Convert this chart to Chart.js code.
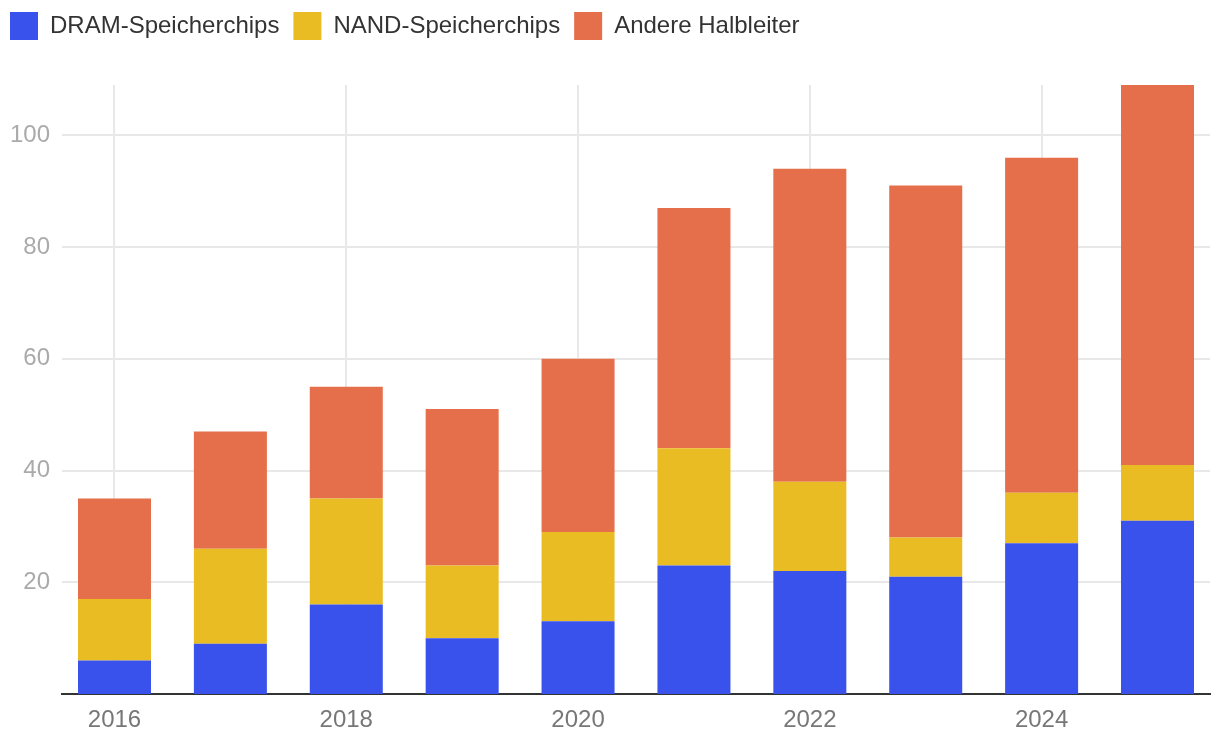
<!DOCTYPE html>
<html>
<head>
<meta charset="utf-8">
<script src="https://cdn.jsdelivr.net/npm/chart.js@4"></script>
<style>
html,body{margin:0;padding:0;background:#fff;}
#wrap{width:1220px;height:748px;}
</style>
</head>
<body>
<div id="wrap"><canvas id="c" width="1220" height="748"></canvas></div>
<script>
const years = ['2016','2017','2018','2019','2020','2021','2022','2023','2024','2025'];
const dram = [6, 9, 16, 10, 13, 23, 22, 21, 27, 31];
const nand = [11, 17, 19, 13, 16, 21, 16, 7, 9, 10];
const andere = [18, 21, 20, 28, 31, 43, 56, 63, 60, 68];
const xTickYears = [2016, 2018, 2020, 2022, 2024];
const yTicks = [20, 40, 60, 80, 100];
const yMax = 109;

const fontFamily = '"Liberation Sans", Arial, Helvetica, sans-serif';
const barPct = 0.63;
const toPoints = arr => arr.map((v, i) => ({x: Number(years[i]), y: v}));

const legendHeight = {
  id: 'legendHeight',
  afterInit(chart) {
    const lg = chart.legend;
    if (!lg) return;
    const orig = lg.fit;
    lg.fit = function() { orig.call(this); this.height = 87; };
  }
};

new Chart(document.getElementById('c'), {
  type: 'bar',
  plugins: [legendHeight],
  data: {
    datasets: [
      {label: 'DRAM-Speicherchips', data: toPoints(dram), backgroundColor: '#3a52ec', barPercentage: barPct, categoryPercentage: 1},
      {label: 'NAND-Speicherchips', data: toPoints(nand), backgroundColor: '#eabc23', barPercentage: barPct, categoryPercentage: 1},
      {label: 'Andere Halbleiter', data: toPoints(andere), backgroundColor: '#e66f4b', barPercentage: barPct, categoryPercentage: 1}
    ]
  },
  options: {
    responsive: false,
    animation: false,
    devicePixelRatio: 1,
    layout: {padding: {left: -4, right: 10, top: -2, bottom: 0}},
    plugins: {
      legend: {
        position: 'top',
        align: 'start',
        labels: {
          boxWidth: 28,
          boxHeight: 28,
          padding: 14,
          color: '#333',
          font: {family: fontFamily, size: 24}
        }
      },
      tooltip: {enabled: false}
    },
    scales: {
      x: {
        type: 'linear',
        stacked: true,
        min: 2015.547,
        max: 2025.453,
        offset: false,
        grid: {offset: false, color: '#e8e8e8', lineWidth: 2, drawTicks: false},
        border: {display: true, color: '#333', width: 2},
        ticks: {
          stepSize: 1,
          includeBounds: false,
          color: '#777',
          font: {family: fontFamily, size: 24},
          padding: 12,
          autoSkip: false,
          maxRotation: 0,
          callback: function(v) { return xTickYears.includes(Math.round(v)) && Math.abs(v - Math.round(v)) < 1e-6 ? String(Math.round(v)) : null; }
        },
        afterBuildTicks: function(s) { s.ticks = xTickYears.map(v => ({value: v})); },
        afterFit: function(s) { s.height = 54; }
      },
      y: {
        stacked: true,
        min: 0,
        max: yMax,
        grid: {color: '#e8e8e8', lineWidth: 2, drawTicks: false},
        border: {display: false},
        ticks: {
          stepSize: 20,
          color: '#aaa',
          font: {family: fontFamily, size: 24},
          padding: 12,
          callback: function(v) { return yTicks.includes(v) ? String(v) : null; }
        },
        afterFit: function(s) { s.width = 66; }
      }
    }
  }
});
</script>
</body>
</html>
